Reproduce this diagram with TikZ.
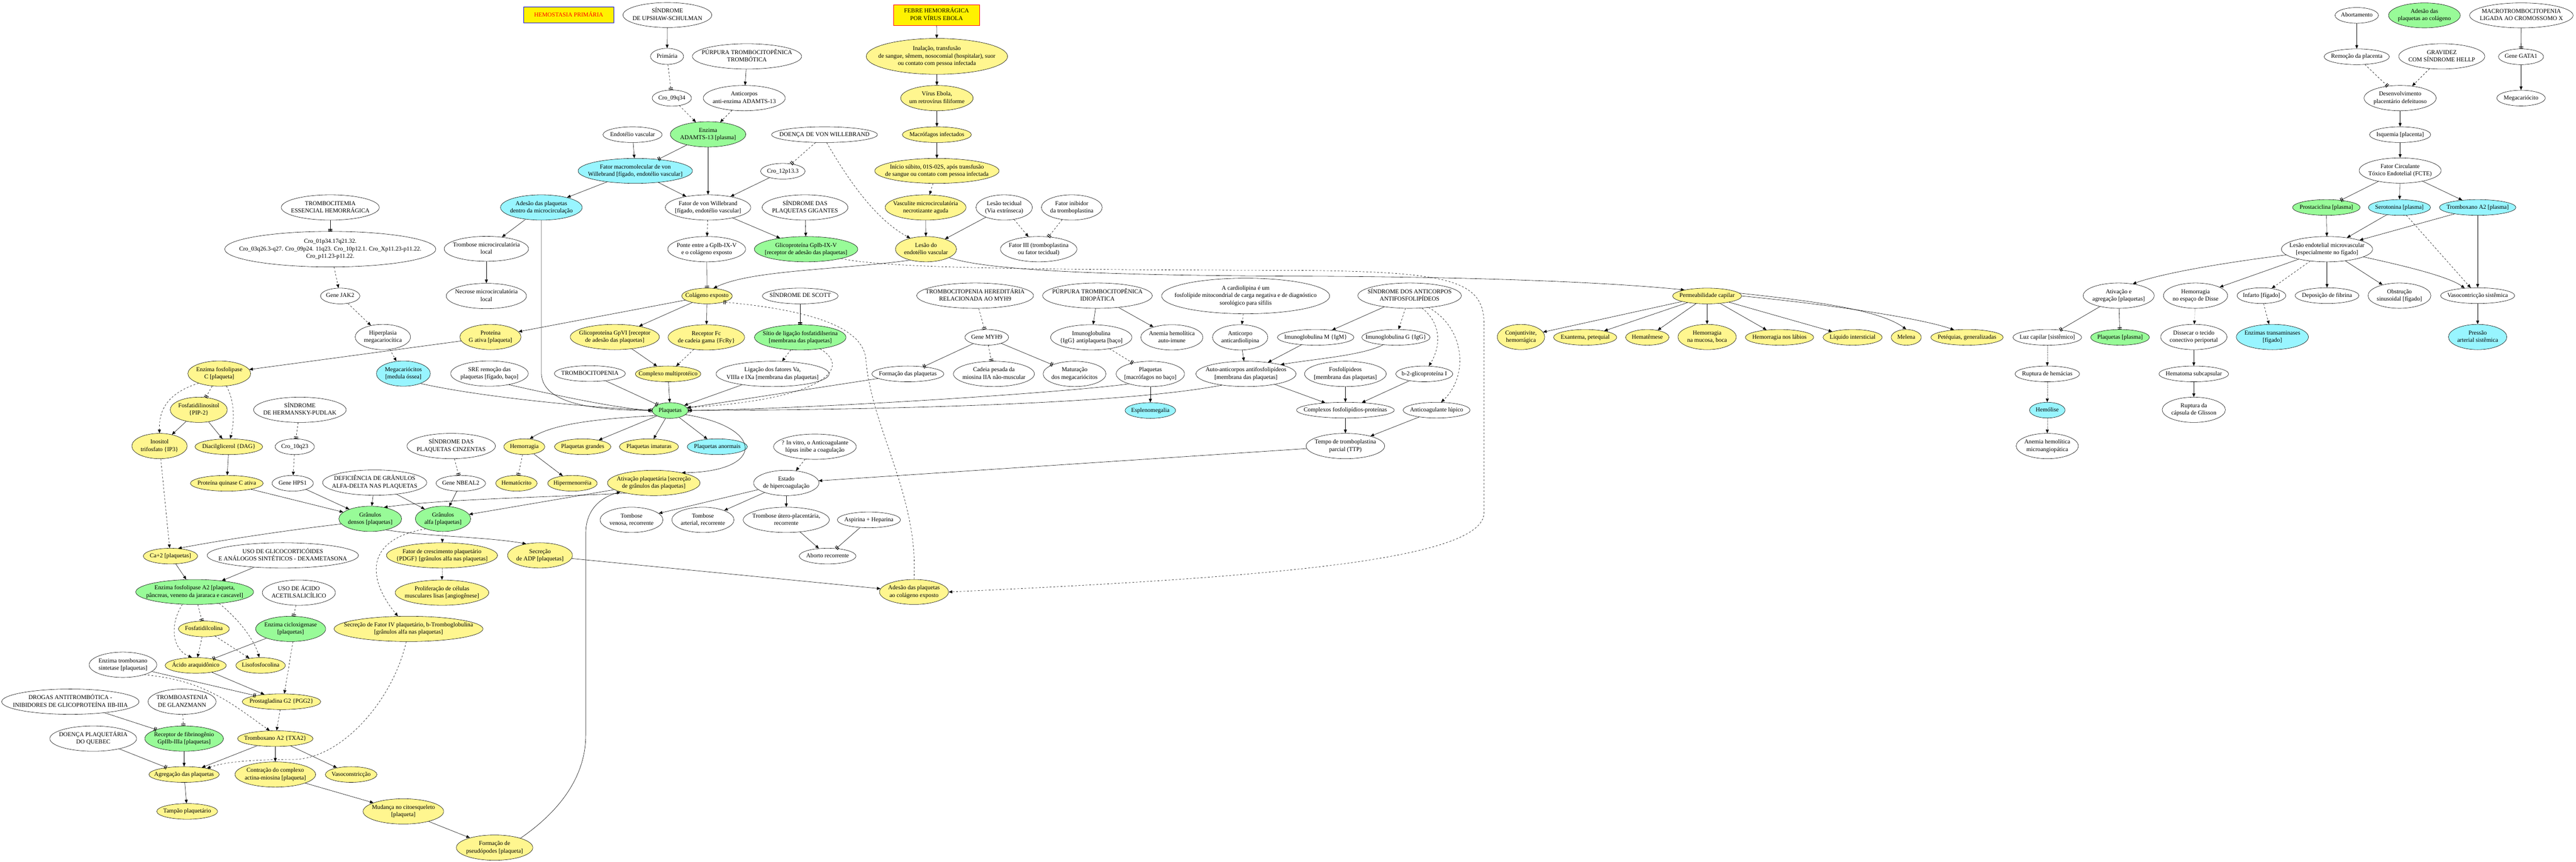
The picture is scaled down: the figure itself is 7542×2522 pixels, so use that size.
\documentclass[tikz,border=0pt]{standalone}
\usepackage{fontspec}
\setmainfont{Liberation Serif}
\usetikzlibrary{shapes.geometric,arrows.meta}
\definecolor{amarelo}{HTML}{FFF68F}
\definecolor{verde}{HTML}{98FB98}
\definecolor{ciano}{HTML}{98F5FF}
\newcommand{\rotulo}[1]{\smash{\makebox[0pt]{\raisebox{-0.25em}{\begin{tabular}{@{}c@{}}#1\end{tabular}}}}}
\tikzset{
  bub/.style={ellipse, draw, inner sep=0pt, font=\fontsize{10}{12.3}\selectfont},
  titulo/.style={rectangle, draw, fill=yellow, inner sep=0pt, font=\fontsize{10}{12.3}\selectfont},
  sz/.style 2 args={minimum width=#1*0.02cm, minimum height=#2*0.02cm},
  am/.style={fill=amarelo}, vd/.style={fill=verde}, ci/.style={fill=ciano},
  seta/.style={-{Triangle[length=6pt,width=5pt]}},
  barra/.style={-{Bar[width=7pt,line width=1pt,sep=1.5pt]Bar[width=7pt,line width=1pt]}},
}
\begin{document}
\begin{tikzpicture}[x=0.02cm, y=0.02cm, line width=0.5pt]
\useasboundingbox (0,0) rectangle (7542,-2522);
% titulos e topo
\node[titulo, draw=blue, text=red, sz={264}{47}] (hemo) at (1665,-44) {\rotulo{HEMOSTASIA PRIMÁRIA}};
\node[bub, sz={260}{73}] (upshaw) at (1954,-44) {\rotulo{SÍNDROME\\DE UPSHAW-SCHULMAN}};
\node[titulo, draw=red, sz={251}{61}] (febre) at (2742,-44) {\rotulo{FEBRE HEMORRÁGICA\\POR VÍRUS EBOLA}};
\node[bub, sz={127}{46}] (abortamento) at (6900,-45) {\rotulo{Abortamento}};
\node[bub, vd, sz={210}{73}] (adesaoTopo) at (7098,-45) {\rotulo{Adesão das\\plaquetas ao colágeno}};
\node[bub, sz={303}{73}] (macrotrombo) at (7382,-45) {\rotulo{MACROTROMBOCITOPENIA\\LIGADA AO CROMOSSOMO X}};
\node[bub, sz={97}{47}] (primaria) at (1953,-165) {\rotulo{Primária}};
\node[bub, sz={320}{74}] (purpuraTT) at (2187,-165) {\rotulo{PÚRPURA TROMBOCITOPÊNICA\\TROMBÓTICA}};
\node[bub, am, sz={414}{105}] (inalacao) at (2743,-165) {\rotulo{Inalação, transfusão\\de sangue, sêmem, nosocomial (hospitalar), suor\\ou contato com pessoa infectada}};
\node[bub, sz={191}{46}] (remocao) at (6900,-166) {\rotulo{Remoção da placenta}};
\node[bub, sz={252}{74}] (gravidez) at (7149,-165) {\rotulo{GRAVIDEZ\\COM SÍNDROME HELLP}};
\node[bub, sz={132}{46}] (geneGATA) at (7381,-166) {\rotulo{Gene GATA1}};
\node[bub, sz={115}{47}] (cro09) at (1967,-287) {\rotulo{Cro\_09q34}};
\node[bub, sz={240}{74}] (anticAdamts) at (2179,-287) {\rotulo{Anticorpos\\anti-enzima ADAMTS-13}};
\node[bub, am, sz={212}{74}] (virusEbola) at (2743,-287) {\rotulo{Vírus Ebola,\\um retrovírus filiforme}};
\node[bub, sz={211}{74}] (desenvolv) at (7027,-287) {\rotulo{Desenvolvimento\\placentário defeituoso}};
\node[bub, sz={142}{46}] (megacariocito) at (7381,-287) {\rotulo{Megacariócito}};
\node[bub, sz={173}{46}] (endotelio) at (1852,-394) {\rotulo{Endotélio vascular}};
\node[bub, vd, sz={221}{74}] (adamts) at (2073,-393) {\rotulo{Enzima\\ADAMTS-13 [plasma]}};
\node[bub, sz={310}{46}] (doencaVW) at (2414,-394) {\rotulo{DOENÇA DE VON WILLEBRAND}};
\node[bub, am, sz={202}{46}] (macrofagos) at (2743,-394) {\rotulo{Macrófagos infectados}};
\node[bub, sz={179}{46}] (isquemia) at (7027,-394) {\rotulo{Isquemia [placenta]}};
\node[bub, ci, sz={335}{73}] (fatorMacro) at (1860,-500) {\rotulo{Fator macromolecular de von\\Willebrand [fígado, endotélio vascular]}};
\node[bub, sz={130}{46}] (cro12) at (2292,-501) {\rotulo{Cro\_12p13.3}};
\node[bub, am, sz={364}{73}] (inicio) at (2743,-500) {\rotulo{Início súbito, 01S-02S, após transfusão\\de sangue ou contato com pessoa infectada}};
\node[bub, sz={240}{74}] (fatorCirc) at (7027,-499) {\rotulo{Fator Circulante\\Tóxico Endotelial (FCTE)}};
\node[bub, sz={287}{74}] (trombEss) at (967,-607) {\rotulo{TROMBOCITEMIA\\ESSENCIAL HEMORRÁGICA}};
\node[bub, ci, sz={239}{74}] (adesaoMicro) at (1585,-607) {\rotulo{Adesão das plaquetas\\dentro da microcirculação}};
\node[bub, sz={250}{74}] (fatorVW) at (2073,-607) {\rotulo{Fator de von Willebrand\\{}[fígado, endotélio vascular]}};
\node[bub, sz={251}{74}] (sindGigantes) at (2357,-607) {\rotulo{SÍNDROME DAS\\PLAQUETAS GIGANTES}};
\node[bub, am, sz={237}{74}] (vasculite) at (2710,-607) {\rotulo{Vasculite microcirculatória\\necrotizante aguda}};
\node[bub, sz={165}{74}] (lesaoTec) at (2940,-607) {\rotulo{Lesão tecidual\\(Via extrínseca)}};
\node[bub, sz={178}{74}] (fatorInib) at (3138,-607) {\rotulo{Fator inibidor\\da tromboplastina}};
\node[bub, vd, sz={198}{46}] (prostaciclina) at (6811,-607) {\rotulo{Prostaciclina [plasma]}};
\node[bub, ci, sz={182}{46}] (serotonina) at (7025,-607) {\rotulo{Serotonina [plasma]}};
\node[bub, ci, sz={224}{46}] (tbxPlasma) at (7254,-607) {\rotulo{Tromboxano A2 [plasma]}};
\node[bub, sz={618}{104}] (croTE) at (967,-729) {\rotulo{Cro\_01p34.17q21.32.\\Cro\_03q26.3-q27. Cro\_09p24. 11q23. Cro\_10p12.1. Cro\_Xp11.23-p11.22.\\Cro\_p11.23-p11.22.}};
\node[bub, sz={247}{73}] (trombMicro) at (1424,-728) {\rotulo{Trombose microcirculatória\\local}};
\node[bub, sz={228}{74}] (ponte) at (2069,-729) {\rotulo{Ponte entre a GpIb-IX-V\\e o colágeno exposto}};
\node[bub, vd, sz={303}{74}] (gpIb) at (2360,-729) {\rotulo{Glicoproteína GpIb-IX-V\\{}[receptor de adesão das plaquetas]}};
\node[bub, am, sz={179}{74}] (lesaoEndo) at (2711,-729) {\rotulo{Lesão do\\endotélio vascular}};
\node[bub, sz={224}{74}] (fatorIII) at (3041,-729) {\rotulo{Fator III (tromboplastina\\ou fator tecidual)}};
\node[bub, sz={267}{74}] (lesaoMicrov) at (6813,-729) {\rotulo{Lesão endotelial microvascular\\{}[especialmente no fígado]}};
% linha do colageno
\node[bub, sz={115}{46}] (geneJAK2) at (996,-866) {\rotulo{Gene JAK2}};
\node[bub, sz={235}{74}] (necrose) at (1424,-866) {\rotulo{Necrose microcirculatória\\local}};
\node[bub, am, sz={148}{46}] (colageno) at (2070,-866) {\rotulo{Colágeno exposto}};
\node[bub, sz={222}{46}] (sindScott) at (2343,-866) {\rotulo{SÍNDROME DE SCOTT}};
\node[bub, sz={342}{74}] (trombHered) at (2855,-865) {\rotulo{TROMBOCITOPENIA HEREDITÁRIA\\RELACIONADA AO MYH9}};
\node[bub, sz={321}{74}] (purpuraIdio) at (3213,-865) {\rotulo{PÚRPURA TROMBOCITOPÊNICA\\IDIOPÁTICA}};
\node[bub, sz={492}{104}] (cardiolipina) at (3647,-866) {\rotulo{A cardiolipina é um\\fosfolípide mitocondrial de carga negativa e de diagnóstico\\sorológico para sífilis}};
\node[bub, sz={303}{74}] (sindAntifosf) at (4127,-865) {\rotulo{SÍNDROME DOS ANTICORPOS\\ANTIFOSFOLIPÍDEOS}};
\node[bub, am, sz={202}{46}] (permeab) at (4998,-866) {\rotulo{Permeabilidade capilar}};
\node[bub, sz={208}{74}] (ativAgreg) at (6203,-865) {\rotulo{Ativação e\\agregação [plaquetas]}};
\node[bub, sz={188}{74}] (hemorDisse) at (6428,-865) {\rotulo{Hemorragia\\no espaço de Disse}};
\node[bub, sz={143}{46}] (infarto) at (6621,-865) {\rotulo{Infarto [fígado]}};
\node[bub, sz={187}{46}] (deposicao) at (6813,-865) {\rotulo{Deposição de fibrina}};
\node[bub, sz={184}{74}] (obstrucao) at (7025,-865) {\rotulo{Obstrução\\sinusoidal [fígado]}};
\node[bub, sz={217}{46}] (vasoSist) at (7254,-865) {\rotulo{Vasocontricção sistêmica}};
\node[bub, sz={162}{74}] (hiperplasia) at (1121,-986) {\rotulo{Hiperplasia\\megacariocítica}};
\node[bub, am, sz={179}{74}] (proteinaG) at (1436,-986) {\rotulo{Proteína\\G ativa [plaqueta]}};
\node[bub, am, sz={261}{74}] (gpVI) at (1800,-986) {\rotulo{Glicoproteína GpVI [receptor\\de adesão das plaquetas]}};
\node[bub, am, sz={224}{74}] (receptorFc) at (2068,-987) {\rotulo{Receptor Fc\\de cadeia gama \{FcRy\}}};
\node[bub, vd, sz={268}{74}] (sitio) at (2343,-987) {\rotulo{Sítio de ligação fosfatidilserina\\{}[membrana das plaquetas]}};
\node[bub, sz={128}{46}] (geneMYH9) at (2889,-987) {\rotulo{Gene MYH9}};
\node[bub, sz={238}{74}] (igGbaco) at (3195,-987) {\rotulo{Imunoglobulina\\\{IgG\} antiplaqueta [baço]}};
\node[bub, sz={182}{74}] (anemiaAuto) at (3431,-987) {\rotulo{Anemia hemolítica\\auto-imune}};
\node[bub, sz={162}{74}] (anticCardio) at (3631,-987) {\rotulo{Anticorpo\\anticardiolipina}};
\node[bub, sz={224}{46}] (igM) at (3852,-987) {\rotulo{Imunoglobulina M \{IgM\}}};
\node[bub, sz={200}{46}] (igG) at (4087,-987) {\rotulo{Imunoglobulina G \{IgG\}}};
\node[bub, am, sz={139}{74}] (conjuntivite) at (4453,-986) {\rotulo{Conjuntivite,\\hemorrágica}};
\node[bub, am, sz={185}{46}] (exantema) at (4641,-987) {\rotulo{Exantema, petequial}};
\node[bub, am, sz={127}{46}] (hematemese) at (4823,-987) {\rotulo{Hematêmese}};
\node[bub, am, sz={171}{74}] (hemorMucosa) at (4998,-986) {\rotulo{Hemorragia\\na mucosa, boca}};
\node[bub, am, sz={200}{46}] (hemorLabios) at (5210,-987) {\rotulo{Hemorragia nos lábios}};
\node[bub, am, sz={173}{46}] (liquido) at (5424,-987) {\rotulo{Líquido intersticial}};
\node[bub, am, sz={88}{46}] (melena) at (5581,-987) {\rotulo{Melena}};
\node[bub, am, sz={212}{46}] (petequias) at (5759,-987) {\rotulo{Petéquias, generalizadas}};
\node[bub, sz={201}{46}] (luzCapilar) at (5994,-987) {\rotulo{Luz capilar [sistêmico]}};
\node[bub, vd, sz={172}{46}] (plaqPlasma) at (6207,-987) {\rotulo{Plaquetas [plasma]}};
\node[bub, sz={194}{74}] (dissecar) at (6423,-986) {\rotulo{Dissecar o tecido\\conectivo periportal}};
\node[bub, ci, sz={211}{74}] (transaminases) at (6653,-986) {\rotulo{Enzimas transaminases\\{}[fígado]}};
\node[bub, ci, sz={171}{74}] (pressao) at (7254,-986) {\rotulo{Pressão\\arterial sistêmica}};
% plaquetas
\node[bub, am, sz={184}{74}] (fosfolipC) at (642,-1093) {\rotulo{Enzima fosfolipase\\C [plaqueta]}};
\node[bub, ci, sz={158}{74}] (megacariocitos) at (1181,-1093) {\rotulo{Megacariócitos\\{}[medula óssea]}};
\node[bub, sz={227}{74}] (sre) at (1433,-1093) {\rotulo{SRE remoção das\\plaquetas [fígado, baço]}};
\node[bub, sz={208}{46}] (trombocitopenia) at (1727,-1093) {\rotulo{TROMBOCITOPENIA}};
\node[bub, am, sz={192}{46}] (complexoMulti) at (1956,-1094) {\rotulo{Complexo multiprotéico}};
\node[bub, sz={331}{74}] (ligacao) at (2262,-1094) {\rotulo{Ligação dos fatores Va,\\VIIIa e IXa [membrana das plaquetas]}};
\node[bub, sz={211}{46}] (formacao) at (2658,-1094) {\rotulo{Formação das plaquetas}};
\node[bub, sz={237}{74}] (cadeia) at (2910,-1094) {\rotulo{Cadeia pesada da\\miosina IIA não-muscular}};
\node[bub, sz={184}{74}] (maturacao) at (3146,-1094) {\rotulo{Maturação\\dos megacariócitos}};
\node[bub, sz={200}{74}] (plaqMacrof) at (3368,-1094) {\rotulo{Plaquetas\\{}[macrófagos no baço]}};
\node[bub, sz={293}{74}] (autoAntic) at (3648,-1094) {\rotulo{Auto-anticorpos antifosfolipídeos\\{}[membrana das plaquetas]}};
\node[bub, sz={239}{74}] (fosfolipideos) at (3939,-1094) {\rotulo{Fosfolípideos\\{}[membrana das plaquetas]}};
\node[bub, sz={167}{46}] (b2glico) at (4170,-1094) {\rotulo{b-2-glicoproteína I}};
\node[bub, sz={189}{46}] (rupturaHem) at (5994,-1094) {\rotulo{Ruptura de hemácias}};
\node[bub, sz={204}{46}] (hematoma) at (6423,-1094) {\rotulo{Hematoma subcapsular}};
\node[bub, am, sz={167}{74}] (pip2) at (582,-1199) {\rotulo{Fosfatidilinositol\\\{PIP-2\}}};
\node[bub, sz={271}{74}] (hermansky) at (878,-1199) {\rotulo{SÍNDROME\\DE HERMANSKY-PUDLAK}};
\node[bub, vd, sz={105}{46}] (plaquetas) at (1962,-1201) {\rotulo{Plaquetas}};
\node[bub, ci, sz={148}{46}] (esplenomegalia) at (3368,-1201) {\rotulo{Esplenomegalia}};
\node[bub, sz={286}{46}] (complexosFosf) at (3939,-1200) {\rotulo{Complexos fosfolipídios-proteínas}};
\node[bub, sz={196}{46}] (anticLupico) at (4206,-1200) {\rotulo{Anticoagulante lúpico}};
\node[bub, ci, sz={104}{46}] (hemolise) at (5994,-1200) {\rotulo{Hemólise}};
\node[bub, sz={185}{74}] (rupturaGlisson) at (6423,-1199) {\rotulo{Ruptura da\\cápsula de Glisson}};
\node[bub, am, sz={162}{74}] (ip3) at (467,-1305) {\rotulo{Inositol\\trifosfato \{IP3\}}};
\node[bub, am, sz={198}{46}] (dag) at (670,-1307) {\rotulo{Diacilglicerol \{DAG\}}};
\node[bub, sz={115}{46}] (cro10) at (863,-1307) {\rotulo{Cro\_10q23}};
\node[bub, sz={259}{74}] (sindCinz) at (1321,-1305) {\rotulo{SÍNDROME DAS\\PLAQUETAS CINZENTAS}};
\node[bub, am, sz={120}{46}] (hemorragia) at (1535,-1307) {\rotulo{Hemorragia}};
\node[bub, am, sz={165}{46}] (plaqGrandes) at (1706,-1307) {\rotulo{Plaquetas grandes}};
\node[bub, am, sz={173}{46}] (plaqImaturas) at (1900,-1307) {\rotulo{Plaquetas imaturas}};
\node[bub, ci, sz={176}{46}] (plaqAnormais) at (2100,-1307) {\rotulo{Plaquetas anormais}};
\node[bub, sz={242}{74}] (inVitro) at (2386,-1307) {\rotulo{? In vitro, o Anticoagulante\\lúpus inibe a coagulação}};
\node[bub, sz={230}{74}] (tempoTTP) at (3939,-1305) {\rotulo{Tempo de tromboplastina\\parcial (TTP)}};
\node[bub, sz={182}{74}] (anemiaMicro) at (5994,-1305) {\rotulo{Anemia hemolítica\\microangiopática}};
\node[bub, am, sz={213}{46}] (pkc) at (664,-1414) {\rotulo{Proteína quinase C ativa}};
\node[bub, sz={121}{46}] (geneHPS1) at (857,-1414) {\rotulo{Gene HPS1}};
\node[bub, sz={305}{74}] (deficiencia) at (1097,-1412) {\rotulo{DEFICIÊNCIA DE GRÂNULOS\\ALFA-DELTA NAS PLAQUETAS}};
\node[bub, sz={145}{46}] (geneNBEAL2) at (1349,-1414) {\rotulo{Gene NBEAL2}};
\node[bub, am, sz={121}{46}] (hematocrito) at (1512,-1414) {\rotulo{Hematócrito}};
\node[bub, am, sz={145}{46}] (hipermenorreia) at (1676,-1414) {\rotulo{Hipermenorréia}};
\node[bub, am, sz={271}{74}] (ativPlaq) at (1914,-1413) {\rotulo{Ativação plaquetária [secreção\\de grânulos das plaquetas]}};
\node[bub, sz={191}{74}] (estadoHiper) at (2302,-1413) {\rotulo{Estado\\de hipercoagulação}};
\node[bub, vd, sz={184}{74}] (granDensos) at (1084,-1518) {\rotulo{Grânulos\\densos [plaquetas]}};
\node[bub, vd, sz={162}{74}] (granAlfa) at (1297,-1518) {\rotulo{Grânulos\\alfa [plaquetas]}};
\node[bub, sz={184}{74}] (trombVenosa) at (1849,-1521) {\rotulo{Tombose\\venosa, recorrente}};
\node[bub, sz={182}{74}] (trombArterial) at (2058,-1521) {\rotulo{Tombose\\arterial, recorrente}};
\node[bub, sz={252}{74}] (trombUtero) at (2302,-1521) {\rotulo{Trombose útero-placentária,\\recorrente}};
\node[bub, sz={185}{46}] (aspirina) at (2544,-1521) {\rotulo{Aspirina + Heparina}};
\node[bub, am, sz={159}{46}] (ca2) at (499,-1627) {\rotulo{Ca+2 [plaquetas]}};
\node[bub, sz={443}{74}] (usoGlico) at (828,-1625) {\rotulo{USO DE GLICOCORTICÓIDES\\E ANÁLOGOS SINTÉTICOS - DEXAMETASONA}};
\node[bub, am, sz={325}{74}] (pdgf) at (1294,-1625) {\rotulo{Fator de crescimento plaquetário\\\{PDGF\} [grânulos alfa nas plaquetas]}};
\node[bub, am, sz={190}{74}] (secrADP) at (1581,-1625) {\rotulo{Secreção\\de ADP [plaquetas]}};
\node[bub, sz={166}{46}] (abortoRec) at (2423,-1627) {\rotulo{Aborto recorrente}};
% fosfolipase A2 e tromboxano
\node[bub, vd, sz={345}{73}] (fosfolipA2) at (570,-1732) {\rotulo{Enzima fosfolipase A2 [plaqueta,\\pâncreas, veneno da jararaca e cascavel]}};
\node[bub, sz={214}{74}] (usoAAS) at (875,-1734) {\rotulo{USO DE ÁCIDO\\ACETILSALICÍLICO}};
\node[bub, am, sz={274}{74}] (prolifer) at (1294,-1734) {\rotulo{Proliferação de células\\musculares lisas [angiogênese]}};
\node[bub, am, sz={202}{73}] (adesaoColag) at (2676,-1732) {\rotulo{Adesão das plaquetas\\ao colágeno exposto}};
\node[bub, am, sz={149}{46}] (fosfatidilcol) at (597,-1840) {\rotulo{Fosfatidilcolina}};
\node[bub, vd, sz={205}{74}] (cox) at (851,-1840) {\rotulo{Enzima cicloxigenase\\{}[plaquetas]}};
\node[bub, am, sz={436}{74}] (secrFatorIV) at (1196,-1840) {\rotulo{Secreção de Fator IV plaquetário, b-Tromboglobulina\\{}[grânulos alfa nas plaquetas]}};
\node[bub, sz={198}{74}] (tbxSintetase) at (360,-1945) {\rotulo{Enzima tromboxano\\sintetase [plaquetas]}};
\node[bub, am, sz={179}{46}] (acidoAraq) at (573,-1947) {\rotulo{Ácido araquidônico}};
\node[bub, am, sz={145}{46}] (lisofosfo) at (763,-1947) {\rotulo{Lisofosfocolina}};
\node[bub, sz={402}{74}] (drogas) at (206,-2053) {\rotulo{DROGAS ANTITROMBÓTICA -\\INIBIDORES DE GLICOPROTEÍNA IIB-IIIA}};
\node[bub, sz={199}{74}] (glanzmann) at (533,-2053) {\rotulo{TROMBOASTENIA\\DE GLANZMANN}};
\node[bub, am, sz={230}{46}] (pgg2) at (824,-2053) {\rotulo{Prostagladina G2 \{PGG2\}}};
\node[bub, sz={254}{74}] (quebec) at (273,-2161) {\rotulo{DOENÇA PLAQUETÁRIA\\DO QUEBEC}};
\node[bub, vd, sz={230}{74}] (receptorFib) at (539,-2161) {\rotulo{Receptor de fibrinogênio\\GpIIb-IIIa [plaquetas]}};
\node[bub, am, sz={221}{46}] (txa2) at (806,-2161) {\rotulo{Tromboxano A2 \{TXA2\}}};
\node[bub, am, sz={206}{46}] (agregacao) at (539,-2266) {\rotulo{Agregação das plaquetas}};
\node[bub, am, sz={236}{74}] (contracao) at (806,-2266) {\rotulo{Contração do complexo\\actina-miosina [plaqueta]}};
\node[bub, am, sz={151}{46}] (vasoTx) at (1028,-2266) {\rotulo{Vasoconstricção}};
\node[bub, am, sz={178}{46}] (tampao) at (548,-2374) {\rotulo{Tampão plaquetário}};
\node[bub, am, sz={236}{74}] (mudanca) at (1181,-2374) {\rotulo{Mudança no citoesqueleto\\{}[plaqueta]}};
\node[bub, am, sz={224}{74}] (pseudopodes) at (1448,-2480) {\rotulo{Formação de\\pseudópodes [plaqueta]}};
% ligacoes: von Willebrand e PTT
\draw[seta] (upshaw) -- (primaria);
\draw[barra, dashed] (primaria) -- (cro09);
\draw[seta] (purpuraTT) -- (anticAdamts);
\draw[seta, dashed] (cro09) -- (adamts);
\draw[seta, dashed] (anticAdamts) -- (adamts);
\draw[barra] (adamts) -- (fatorMacro);
\draw[seta] (adamts) -- (fatorVW);
\draw[seta] (endotelio) -- (fatorMacro);
\draw[seta] (fatorMacro) -- (adesaoMicro);
\draw[seta] (fatorMacro) -- (fatorVW);
\draw[barra, dashed] (doencaVW) -- (cro12);
\draw[seta] (cro12) -- (fatorVW);
\draw[seta, dashed] (doencaVW.-75) .. controls (2480,-520) and (2560,-640) .. (lesaoEndo.145);
\draw[seta, dashed] (fatorVW) -- (ponte);
\draw[seta] (fatorVW) -- (gpIb);
\draw[seta] (sindGigantes) -- (gpIb);
\draw[barra] (trombEss) -- (croTE);
\draw[seta, dashed] (croTE) -- (geneJAK2);
\draw[seta] (adesaoMicro) -- (trombMicro);
\draw[seta] (trombMicro) -- (necrose);
\draw[seta] (adesaoMicro.south) -- (1585,-1090) .. controls (1585,-1170) and (1700,-1200) .. (plaquetas.west);
% ebola
\draw[seta] (febre) -- (inalacao);
\draw[seta] (inalacao) -- (virusEbola);
\draw[seta] (virusEbola) -- (macrofagos);
\draw[seta] (macrofagos) -- (inicio);
\draw[seta, dashed] (inicio) -- (vasculite);
\draw[seta] (vasculite) -- (lesaoEndo);
\draw[seta] (lesaoTec) -- (lesaoEndo);
\draw[seta, dashed] (lesaoTec) -- (fatorIII);
\draw[barra, dashed] (fatorInib) -- (fatorIII);
\draw[barra] (ponte) -- (colageno);
\draw[seta] (lesaoEndo.215) .. controls (2450,-790) and (2200,-790) .. (colageno.50);
\draw[seta] (lesaoEndo.-20) .. controls (2900,-795) and (3300,-806) .. (3800,-808) .. controls (4400,-810) and (4750,-830) .. (permeab.165);
\draw[seta, dashed] (gpIb.-15) .. controls (2600,-785) and (3000,-789) .. (3800,-791) .. controls (4250,-795) and (4345,-820) .. (4345,-950) -- (4345,-1500) .. controls (4345,-1640) and (3700,-1690) .. (adesaoColag.east);
\draw[barra, dashed] (adesaoColag.north) .. controls (2690,-1450) and (2550,-1250) .. (2535,-1050) .. controls (2525,-950) and (2350,-905) .. (colageno.-20);
% plaquetas
\draw[seta] (colageno) -- (proteinaG);
\draw[seta] (colageno) -- (gpVI);
\draw[seta] (colageno) -- (receptorFc);
\draw[barra] (sindScott) -- (sitio);
\draw[seta, dashed] (sitio) -- (ligacao);
\draw[seta, dashed] (sitio.-30) .. controls (2500,-1080) and (2400,-1170) .. (plaquetas.10);
\draw[seta, dashed] (receptorFc) -- (complexoMulti);
\draw[seta] (gpVI) -- (complexoMulti);
\draw[seta] (complexoMulti) -- (plaquetas);
\draw[seta] (ligacao) -- (plaquetas);
\draw[seta] (formacao) -- (plaquetas);
\draw[barra, dashed] (trombHered) -- (geneMYH9);
\draw[barra] (geneMYH9) -- (formacao);
\draw[barra, dashed] (geneMYH9) -- (cadeia);
\draw[barra] (geneMYH9) -- (maturacao);
\draw[seta] (purpuraIdio) -- (igGbaco);
\draw[seta] (purpuraIdio) -- (anemiaAuto);
\draw[barra, dashed] (igGbaco) -- (plaqMacrof);
\draw[seta] (plaqMacrof) -- (esplenomegalia);
\draw[seta] (plaqMacrof.205) .. controls (3100,-1150) and (2400,-1195) .. (plaquetas.east);
\draw[seta] (megacariocitos.-30) .. controls (1400,-1160) and (1700,-1190) .. (plaquetas.west);
\draw[barra] (sre.-30) .. controls (1600,-1150) and (1800,-1195) .. (plaquetas.west);
\draw[barra] (trombocitopenia) -- (plaquetas);
% anticorpos antifosfolipideos
\draw[seta, dashed] (cardiolipina) -- (anticCardio);
\draw[seta] (anticCardio) -- (autoAntic);
\draw[seta] (sindAntifosf) -- (igM);
\draw[seta, dashed] (sindAntifosf) -- (igG);
\draw[seta, dashed] (sindAntifosf.-45) .. controls (4225,-950) and (4215,-1020) .. (b2glico.60);
\draw[seta, dashed] (sindAntifosf.-32) .. controls (4290,-960) and (4300,-1100) .. (anticLupico.60);
\draw[seta] (igM) -- (autoAntic);
\draw[seta] (igG.210) .. controls (3990,-1040) and (3850,-1050) .. (autoAntic.15);
\draw[barra] (autoAntic.205) .. controls (3250,-1190) and (2400,-1200) .. (plaquetas.east);
\draw[seta] (autoAntic) -- (complexosFosf);
\draw[seta] (fosfolipideos) -- (complexosFosf);
\draw[seta] (b2glico) -- (complexosFosf);
\draw[seta] (complexosFosf) -- (tempoTTP);
\draw[seta] (anticLupico) -- (tempoTTP);
\draw[seta] (tempoTTP) -- (estadoHiper);
\draw[seta, dashed] (inVitro) -- (estadoHiper);
\draw[seta] (estadoHiper) -- (trombVenosa);
\draw[seta] (estadoHiper) -- (trombArterial);
\draw[seta] (estadoHiper) -- (trombUtero);
\draw[seta] (trombUtero) -- (abortoRec);
\draw[barra] (aspirina) -- (abortoRec);
% ativacao e granulos
\draw[seta] (plaquetas) -- (plaqImaturas);
\draw[seta] (plaquetas) -- (plaqAnormais);
\draw[seta] (plaquetas) -- (plaqGrandes);
\draw[seta] (plaquetas.200) .. controls (1750,-1225) and (1620,-1240) .. (hemorragia.55);
\draw[seta] (plaquetas.-15) .. controls (2240,-1250) and (2240,-1380) .. (ativPlaq.20);
\draw[barra, dashed] (hemorragia) -- (hematocrito);
\draw[seta] (hemorragia) -- (hipermenorreia);
\draw[seta] (pseudopodes.20) .. controls (1600,-2400) and (1715,-2300) .. (1715,-2150) -- (1715,-1560) .. controls (1715,-1490) and (1760,-1455) .. (ativPlaq.-165);
\draw[seta] (ativPlaq.200) .. controls (1600,-1455) and (1300,-1460) .. (granDensos.40);
\draw[seta] (ativPlaq) -- (granAlfa);
\draw[seta] (pkc) -- (granDensos);
\draw[seta] (geneHPS1) -- (granDensos);
\draw[seta] (deficiencia) -- (granDensos);
\draw[seta] (deficiencia) -- (granAlfa);
\draw[barra, dashed] (sindCinz) -- (geneNBEAL2);
\draw[seta] (geneNBEAL2) -- (granAlfa);
\draw[seta] (granDensos.190) .. controls (850,-1550) and (650,-1580) .. (ca2.45);
\draw[seta] (granDensos.-35) .. controls (1250,-1570) and (1420,-1570) .. (secrADP.140);
\draw[seta, dotted] (granAlfa) -- (pdgf);
\draw[seta, dotted] (pdgf) -- (prolifer);
\draw[seta, dashed] (granAlfa.210) .. controls (1060,-1580) and (1080,-1700) .. (secrFatorIV.130);
\draw[seta] (secrADP) -- (adesaoColag);
\draw[seta] (usoGlico) -- (fosfolipA2);
\draw[seta] (ca2) -- (fosfolipA2);
\draw[seta, dashed] (ip3) -- (ca2);
% fosfolipase C
\draw[seta, dashed] (geneJAK2) -- (hiperplasia);
\draw[seta, dashed] (hiperplasia) -- (megacariocitos);
\draw[seta] (proteinaG) -- (fosfolipC);
\draw[barra, dashed] (fosfolipC) -- (pip2);
\draw[seta, dashed] (fosfolipC.205) .. controls (490,-1150) and (465,-1200) .. (ip3.north);
\draw[seta, dashed] (fosfolipC.-60) .. controls (690,-1180) and (685,-1240) .. (dag.80);
\draw[seta] (pip2) -- (ip3);
\draw[seta] (pip2) -- (dag);
\draw[seta] (dag) -- (pkc);
\draw[barra, dashed] (hermansky) -- (cro10);
\draw[seta, dashed] (cro10) -- (geneHPS1);
% fosfolipase A2 e tromboxano
\draw[barra, dashed] (fosfolipA2) -- (fosfatidilcol);
\draw[seta, dashed] (fosfolipA2.225) .. controls (495,-1830) and (505,-1900) .. (acidoAraq.115);
\draw[seta, dashed] (fosfolipA2.-25) .. controls (720,-1830) and (750,-1890) .. (lisofosfo.100);
\draw[seta, dashed] (fosfatidilcol) -- (acidoAraq);
\draw[seta, dashed] (fosfatidilcol) -- (lisofosfo);
\draw[barra, dashed] (usoAAS) -- (cox);
\draw[barra] (cox) -- (acidoAraq);
\draw[seta, dashed] (cox.-80) -- (pgg2.70);
\draw[seta] (acidoAraq) -- (pgg2);
\draw[barra] (tbxSintetase) -- (pgg2);
\draw[seta, dashed] (tbxSintetase.-25) .. controls (600,-1990) and (680,-2060) .. (txa2.125);
\draw[seta, dashed] (pgg2) -- (txa2);
\draw[barra] (drogas) -- (receptorFib);
\draw[barra, dashed] (glanzmann) -- (receptorFib);
\draw[barra] (quebec) -- (agregacao);
\draw[seta] (receptorFib) -- (agregacao);
\draw[seta] (txa2) -- (agregacao);
\draw[seta] (txa2) -- (contracao);
\draw[seta] (txa2) -- (vasoTx);
\draw[seta, dashed] (secrFatorIV.-100) .. controls (1150,-2050) and (1000,-2220) .. (860,-2222) .. controls (750,-2222) and (660,-2228) .. (agregacao.15);
\draw[seta] (agregacao) -- (tampao);
\draw[seta] (contracao) -- (mudanca);
\draw[seta] (mudanca) -- (pseudopodes);
% HELLP
\draw[seta] (abortamento) -- (remocao);
\draw[barra] (macrotrombo) -- (geneGATA);
\draw[barra, dashed] (remocao) -- (desenvolv);
\draw[seta, dashed] (gravidez) -- (desenvolv);
\draw[seta] (geneGATA) -- (megacariocito);
\draw[seta] (desenvolv) -- (isquemia);
\draw[seta] (isquemia) -- (fatorCirc);
\draw[barra] (fatorCirc) -- (prostaciclina);
\draw[seta] (fatorCirc) -- (serotonina);
\draw[seta] (fatorCirc) -- (tbxPlasma);
\draw[seta] (prostaciclina) -- (lesaoMicrov);
\draw[seta] (serotonina) -- (lesaoMicrov);
\draw[seta] (tbxPlasma) -- (lesaoMicrov);
\draw[seta, dashed] (serotonina) -- (vasoSist);
\draw[seta] (tbxPlasma) -- (vasoSist);
\draw[seta] (lesaoMicrov.188) .. controls (6500,-770) and (6330,-800) .. (ativAgreg.40);
\draw[seta] (lesaoMicrov) -- (hemorDisse);
\draw[seta, dashed] (lesaoMicrov) -- (infarto);
\draw[seta] (lesaoMicrov) -- (deposicao);
\draw[seta] (lesaoMicrov) -- (obstrucao);
\draw[seta] (lesaoMicrov.-12) .. controls (7050,-780) and (7170,-810) .. (vasoSist.150);
\draw[barra] (ativAgreg) -- (luzCapilar);
\draw[barra] (ativAgreg) -- (plaqPlasma);
\draw[seta, dotted] (luzCapilar) -- (rupturaHem);
\draw[seta, dotted] (rupturaHem) -- (hemolise);
\draw[seta, dotted] (hemolise) -- (anemiaMicro);
\draw[seta, dotted] (hemorDisse) -- (dissecar);
\draw[seta] (dissecar) -- (hematoma);
\draw[seta] (hematoma) -- (rupturaGlisson);
\draw[seta, dashed] (infarto) -- (transaminases);
\draw[seta] (vasoSist) -- (pressao);
% permeabilidade capilar
\draw[seta] (permeab) -- (conjuntivite);
\draw[seta] (permeab) -- (exantema);
\draw[seta] (permeab) -- (hematemese);
\draw[seta] (permeab) -- (hemorMucosa);
\draw[seta] (permeab) -- (hemorLabios);
\draw[seta] (permeab) -- (liquido);
\draw[seta] (permeab.5) .. controls (5300,-880) and (5500,-905) .. (melena.north);
\draw[seta] (permeab.east) .. controls (5350,-890) and (5620,-930) .. (petequias.150);
\end{tikzpicture}
\end{document}
